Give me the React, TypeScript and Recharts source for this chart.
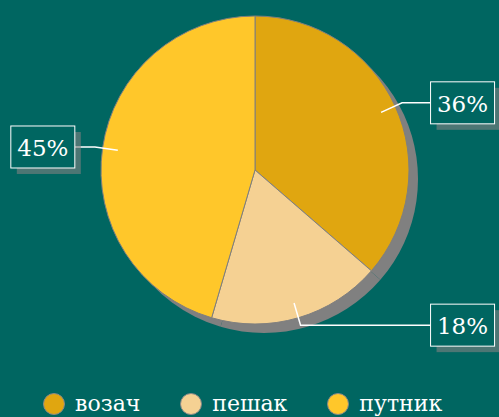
import { PieChart, Pie, Cell, Legend } from 'recharts';

const categories = ['возач', 'пешак', 'путник'];
const shares = [36, 18, 45];
const colors = ['#E0A610', '#F5D193', '#FFC72A'];

const data = categories.map((name, i) => ({ name, value: shares[i] }));

const BG = '#006661';
const FONT = '"DejaVu Serif", serif';
const RAD = Math.PI / 180;

function renderLabel(props: any) {
  const { cx, cy, midAngle, outerRadius, percent } = props;
  const cos = Math.cos(-midAngle * RAD);
  const sin = Math.sin(-midAngle * RAD);
  const sx = cx + outerRadius * 0.9 * cos;
  const sy = cy + outerRadius * 0.9 * sin;
  const ex = cx + outerRadius * 1.05 * cos;
  const ey = cy + outerRadius * 1.05 * sin;
  const right = cos >= 0;
  const boxW = 64;
  const boxH = 42;
  const boxX = right ? cx + outerRadius * 1.14 : cx - outerRadius * 1.17 - boxW;
  const lineEnd = right ? boxX : boxX + boxW;
  const boxY = ey - boxH / 2;
  return (
    <g>
      <polyline
        points={`${sx},${sy} ${ex},${ey} ${lineEnd},${ey}`}
        fill='none'
        stroke='#ffffff'
        strokeWidth={1.5}
      />
      <rect x={boxX + 6} y={boxY + 6} width={boxW} height={boxH} fill='#808080' fillOpacity={0.6} />
      <rect x={boxX} y={boxY} width={boxW} height={boxH} fill={BG} stroke='#ffffff' strokeWidth={1} />
      <text
        x={boxX + boxW / 2}
        y={boxY + boxH / 2 + 1}
        fill='#ffffff'
        textAnchor='middle'
        dominantBaseline='central'
        fontFamily={FONT}
        fontSize={23}
      >
        {`${Math.round(percent * 100)}%`}
      </text>
    </g>
  );
}

function LegendContent() {
  return (
    <div
      style={{
        display: 'flex',
        justifyContent: 'flex-start',
        paddingLeft: 43,
        gap: 40,
        fontFamily: FONT,
        fontSize: 22,
        color: '#ffffff',
      }}
    >
      {data.map((d, i) => (
        <div key={d.name} style={{ display: 'flex', alignItems: 'center', gap: 10 }}>
          <svg width={22} height={22}>
            <circle cx={11} cy={11} r={10.5} fill={colors[i]} stroke='#888888' strokeWidth={1} />
          </svg>
          <span>{d.name}</span>
        </div>
      ))}
    </div>
  );
}

export default function App() {
  return (
    <div style={{ position: 'absolute', left: 0, top: 0, width: 499, height: 417, background: BG }}>
      <PieChart width={499} height={417} margin={{ top: 0, right: 0, bottom: 0, left: 0 }}>
        <Pie
          data={data}
          dataKey='value'
          nameKey='name'
          cx={264}
          cy={179}
          outerRadius={154}
          startAngle={90}
          endAngle={-270}
          fill='#808080'
          stroke='none'
          legendType='none'
          isAnimationActive={false}
        />
        <Pie
          data={data}
          dataKey='value'
          nameKey='name'
          cx={255}
          cy={170}
          outerRadius={154}
          startAngle={90}
          endAngle={-270}
          stroke='#7f7f7f'
          strokeWidth={1}
          label={renderLabel}
          labelLine={false}
          isAnimationActive={false}
        >
          {data.map((d, i) => (
            <Cell key={d.name} fill={colors[i]} />
          ))}
        </Pie>
        <Legend
          verticalAlign='bottom'
          content={<LegendContent />}
          wrapperStyle={{ bottom: 1, left: 0, width: 499 }}
        />
      </PieChart>
    </div>
  );
}
